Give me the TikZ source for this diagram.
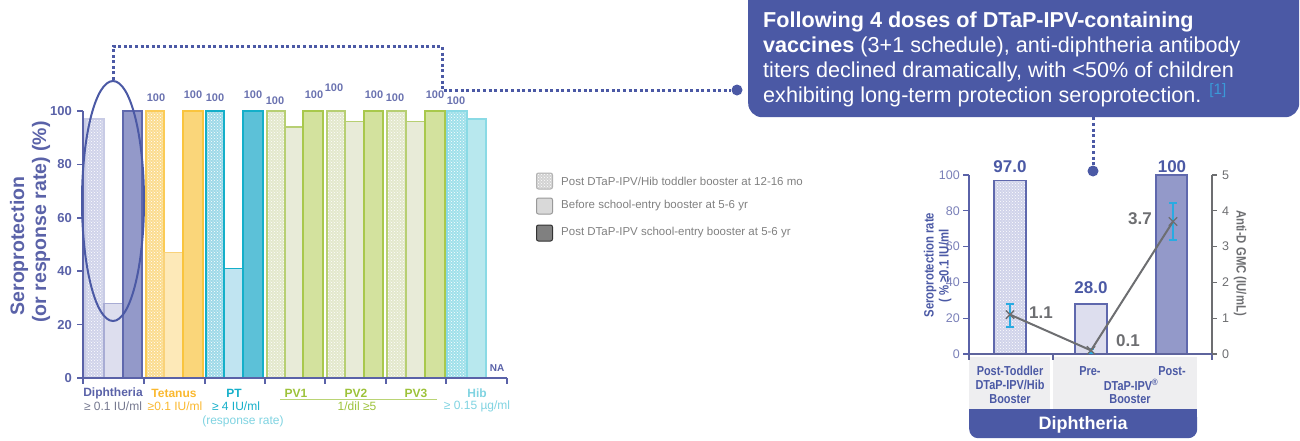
\documentclass[tikz,border=0pt]{standalone}
\usepackage{fontspec}
\setmainfont{Liberation Sans}
\newfontfamily\narrowfont[FakeStretch=0.84]{Liberation Sans}
\usetikzlibrary{patterns,shapes.geometric,shapes.misc}
\definecolor{ind}{HTML}{4B59A5}
\definecolor{axisc}{HTML}{5A62A8}
\definecolor{vlabc}{HTML}{6A72B0}
\definecolor{rtickc}{HTML}{7A80B8}
\definecolor{ddf}{HTML}{9399C9}\definecolor{ddd}{HTML}{5F68AD}
\definecolor{dmf}{HTML}{DDDEEE}\definecolor{dmd}{HTML}{A8ACD4}
\definecolor{dhf}{HTML}{D0D3EA}\definecolor{dhd}{HTML}{C8CBE5}
\definecolor{tdf}{HTML}{FAD67A}\definecolor{tdd}{HTML}{F9C43E}
\definecolor{tmf}{HTML}{FDE9B8}\definecolor{tmd}{HTML}{F9D27A}
\definecolor{thf}{HTML}{FBDC8F}\definecolor{thd}{HTML}{FBCB56}
\definecolor{pdf}{HTML}{5CC1D8}\definecolor{pdd}{HTML}{14AFC9}
\definecolor{pmf}{HTML}{C0E4F1}
\definecolor{phf}{HTML}{9ED9E8}
\definecolor{vdf}{HTML}{D3E29E}\definecolor{vdd}{HTML}{A8C84C}
\definecolor{vmf}{HTML}{E8EBD8}\definecolor{vmd}{HTML}{B7CF73}
\definecolor{vhf}{HTML}{E3E8CC}
\definecolor{hmf}{HTML}{B8E8EE}\definecolor{hmd}{HTML}{8ADAE5}
\definecolor{hhf}{HTML}{9FE0EA}
\definecolor{tetc}{HTML}{FAB82E}
\definecolor{ptc}{HTML}{14AFC9}
\definecolor{pvc}{HTML}{9DC23A}
\definecolor{hibc}{HTML}{7FD3E1}
\definecolor{greyc}{HTML}{6D6E71}
\definecolor{errc}{HTML}{29ABE2}
\definecolor{refc}{HTML}{3A9AD9}
\definecolor{catbg}{HTML}{EEEEF0}
\definecolor{legc}{HTML}{808080}
\definecolor{diphsub}{HTML}{75788F}
\newcommand\mybar[4]{\path[#4] (#1,378) rectangle (#2,{378-2.67*#3});}
\newcommand\rbar[4]{\path[#4] (#1,354) rectangle (#2,{354-1.79*#3});}
\begin{document}
\begin{tikzpicture}[x=1pt,y=-1pt,
  barb/.style={line width=1.3pt},
  hatch/.style 2 args={barb, draw=#1, preaction={fill=#2}, pattern=crosshatch dots, pattern color=white},
  solid/.style 2 args={barb, draw=#1, fill=#2},
  tick/.style={font=\fontsize{13}{15}\selectfont\bfseries, text=axisc, anchor=east, inner sep=0},
  vlab/.style={font=\fontsize{11}{13}\selectfont\bfseries, text=vlabc, inner sep=0},
  cat/.style={font=\fontsize{12}{14}\selectfont\bfseries, inner sep=0},
  sub/.style={font=\fontsize{12}{14}\selectfont, inner sep=0},
  dotline/.style={draw=ind, line width=3pt, dash pattern=on 3pt off 2.6pt},
  bigdot/.style={circle, fill=ind, inner sep=0, minimum size=11pt},
  legbox/.style={rounded corners=2pt, minimum size=16pt, inner sep=0, line width=1pt},
  legtxt/.style={font=\fontsize{11.5}{14}\selectfont, text=legc, anchor=west, inner sep=0},
  rtick/.style={font=\fontsize{12.5}{14}\selectfont, inner sep=0},
  rval/.style={font=\fontsize{17}{20}\selectfont\bfseries, text=ind, inner sep=0},
  gval/.style={font=\fontsize{17}{20}\selectfont\bfseries, text=greyc, inner sep=0},
  rcat/.style={font=\narrowfont\fontsize{13}{15}\selectfont\bfseries, text=ind, inner sep=0},
  xmark/.style={cross out, draw=greyc, line width=1.3pt, minimum size=7pt, inner sep=0},
  errbar/.style={draw=errc, line width=1.5pt}]
\useasboundingbox (0,0) rectangle (1300,440);

% ---------- left chart bars ----------
\mybar{85}{104}{97}{hatch={dhd}{dhf}}
\mybar{104}{123}{28}{solid={dmd}{dmf}}
\mybar{123}{142}{100}{solid={ddd}{ddf}}
\mybar{146}{164}{100}{hatch={thd}{thf}}
\mybar{164}{183}{47}{solid={tmd}{tmf}}
\mybar{183}{203}{100}{solid={tdd}{tdf}}
\mybar{206}{224}{100}{hatch={pdd}{phf}}
\mybar{224}{243}{41}{solid={pdd}{pmf}}
\mybar{243}{263}{100}{solid={pdd}{pdf}}
\mybar{267}{285}{100}{hatch={vmd}{vhf}}
\mybar{285}{303}{94}{solid={vmd}{vmf}}
\mybar{303}{323}{100}{solid={vdd}{vdf}}
\mybar{327}{345}{100}{hatch={vmd}{vhf}}
\mybar{345}{364}{96}{solid={vmd}{vmf}}
\mybar{364}{383}{100}{solid={vdd}{vdf}}
\mybar{387}{406}{100}{hatch={vmd}{vhf}}
\mybar{406}{425}{96}{solid={vmd}{vmf}}
\mybar{425}{445}{100}{solid={vdd}{vdf}}
\mybar{447}{467}{100}{hatch={hmd}{hhf}}
\mybar{467}{486}{97}{solid={hmd}{hmf}}

% axes
\draw[axisc, line width=2pt] (83,111) -- (83,378) -- (507,378);
\foreach \v in {0,20,...,100} \draw[axisc, line width=1.5pt] (77,{378-2.67*\v}) -- (83,{378-2.67*\v});
\foreach \x in {83,144,205,265,325,386,446,507} \draw[axisc, line width=1.5pt] (\x,378) -- (\x,384);
\node[tick] (t0) at (72,378) {0};
\node[tick] (t20) at (72,324.6) {20};
\node[tick] (t40) at (72,271.2) {40};
\node[tick] (t60) at (72,217.8) {60};
\node[tick] (t80) at (72,164.4) {80};
\node[tick] (t100) at (72,111) {100};
\node[rotate=90, font=\fontsize{19.5}{22}\selectfont\bfseries, text=axisc, inner sep=0] (yt1) at (19,246) {Seroprotection};
\node[rotate=90, font=\fontsize{19.5}{22}\selectfont\bfseries, text=axisc, inner sep=0] (yt2) at (41,222) {(or response rate) (\%)};

% value labels
\node[vlab] (l1) at (156,98) {100};
\node[vlab] (l2) at (193,95) {100};
\node[vlab] (l3) at (215,98) {100};
\node[vlab] (l4) at (253,95) {100};
\node[vlab] (l5) at (275,101) {100};
\node[vlab] (l6) at (314,95) {100};
\node[vlab] (l7) at (334,88) {100};
\node[vlab] (l8) at (374,95) {100};
\node[vlab] (l9) at (395,98) {100};
\node[vlab] (l10) at (435,95) {100};
\node[vlab] (l11) at (456,101) {100};
\node[font=\fontsize{10}{12}\selectfont\bfseries, text=axisc, inner sep=0] (na) at (497,368) {NA};

% category labels
\node[cat, text=axisc] (cd) at (113,393) {Diphtheria};
\node[sub, text=diphsub] (cd2) at (113,406) {≥ 0.1 IU/ml};
\node[cat, text=tetc] (ct) at (174,393) {Tetanus};
\node[sub, text=tetc] (ct2) at (175,406) {≥0.1 IU/ml};
\node[cat, text=ptc] (cp) at (234,393) {PT};
\node[sub, text=ptc] (cp2) at (236,406) {≥ 4 IU/ml};
\node[sub, text=hibc] (cp3) at (243,421) {(response rate)};
\node[cat, text=pvc] (cv1) at (296,393) {PV1};
\node[cat, text=pvc] (cv2) at (356,393) {PV2};
\node[cat, text=pvc] (cv3) at (416,393) {PV3};
\draw[pvc!70, line width=1.5pt] (280,399.5) -- (437,399.5);
\node[sub, text=pvc] (cv4) at (357,406) {1/dil ≥5};
\node[cat, text=hibc] (ch) at (477,393) {Hib};
\node[sub, text=hibc] (ch2) at (477,406) {≥ 0.15 µg/ml};

% ellipse + dotted connector
\node[ellipse, draw=ind, line width=2pt, minimum width=62pt, minimum height=240pt, inner sep=0] (oval) at (113,201) {};
\node[bigdot] (dotL) at (737,90) {};
\draw[dotline] (oval.north) |- (442,46) |- (dotL);

% ---------- legend ----------
\node[legbox, draw=legc!60, preaction={fill=legc!35}, pattern=crosshatch dots, pattern color=white] (lg1) at (544.5,181) {};
\node[legbox, draw=legc!80, fill=legc!30] (lg2) at (544.5,206) {};
\node[legbox, draw=legc!40!black, fill=legc] (lg3) at (544.5,233) {};
\node[legtxt] (lt1) at (561,181) {Post DTaP-IPV/Hib toddler booster at 12-16 mo};
\node[legtxt] (lt2) at (561,206) {Before school-entry booster at 5-6 yr};
\node[legtxt] (lt3) at (561,233) {Post DTaP-IPV school-entry booster at 5-6 yr};

% ---------- callout ----------
\node[fill=ind, rounded corners=14pt, minimum width=551pt, minimum height=137pt, anchor=north west, inner sep=0] (callout) at (748,-20) {};
\node[anchor=north west, align=left, text=white, font=\fontsize{21.6}{25}\selectfont, inner sep=0] (calltext) at (763,11.5)
 {\textbf{Following 4 doses of DTaP-IPV-containing}\\
  \textbf{vaccines} (3+1 schedule), anti-diphtheria antibody\\
  titers declined dramatically, with <50\% of children\\
  exhibiting long-term protection seroprotection. \textsuperscript{\textcolor{refc}{[1]}}};
\node[bigdot] (dotR) at (1093,171) {};
\draw[dotline] (callout.south -| dotR) -- (dotR);

% ---------- right chart ----------
\fill[catbg] (969,357) rectangle (1050,409);
\fill[catbg] (1053,357) rectangle (1197,409);
\node[fill=ind, rounded corners=9pt, minimum width=228pt, minimum height=29pt, anchor=north west, inner sep=0] (banner) at (969,409) {};
\fill[ind] (969,409) rectangle (1197,420);
\node[font=\fontsize{18}{21}\selectfont\bfseries, text=white, inner sep=0] (bantext) at (1083,424.5) {Diphtheria};

\rbar{994}{1026}{97}{hatch={ddd}{dhf}}
\rbar{1075}{1107}{28}{solid={ddd}{dmf}}
\rbar{1156}{1187}{100}{solid={ddd}{ddf}}

\draw[axisc, line width=1.5pt] (969,175) -- (969,354);
\draw[greyc, line width=1.5pt] (1212,175) -- (1212,354);
\draw[axisc!80!greyc, line width=1.5pt] (969,354) -- (1212,354);
\foreach \x in {969,1053,1212} \draw[axisc!80!greyc, line width=1.5pt] (\x,354) -- (\x,360);
\foreach \v in {0,20,...,100} \draw[axisc, line width=1.3pt] (963,{354-1.79*\v}) -- (969,{354-1.79*\v});
\foreach \k in {0,...,5} \draw[greyc, line width=1.3pt] (1212,{354-35.8*\k}) -- (1217,{354-35.8*\k});
\foreach \v/\n in {0/r0,20/r20,40/r40,60/r60,80/r80,100/r100}
  \node[rtick, text=rtickc, anchor=east] (\n) at (960,{354-1.79*\v}) {\v};
\foreach \k/\n in {0/s0,1/s1,2/s2,3/s3,4/s4,5/s5}
  \node[rtick, text=greyc, anchor=west] (\n) at (1222,{354-35.8*\k}) {\k};

\node[rotate=90, font=\narrowfont\fontsize{13.5}{16}\selectfont\bfseries, text=ind, inner sep=0] (ryt1) at (930,265) {Seroprotection rate};
\node[rotate=90, font=\narrowfont\fontsize{13.5}{16}\selectfont\bfseries, text=ind, inner sep=0] (ryt2) at (945,266) {( \% ≥0.1 IU/ml};
\node[rotate=-90, font=\narrowfont\fontsize{13.5}{16}\selectfont\bfseries, text=greyc, inner sep=0] (ryt3) at (1240,263) {Anti-D GMC (IU/mL)};

\node[rval] (b1) at (1010,167) {97.0};
\node[rval] (b2) at (1091,288) {28.0};
\node[rval] (b3) at (1172,167) {100};

% error bars
\draw[errbar] (1010,304) -- (1010,327) (1006,304) -- (1014,304) (1006,327) -- (1014,327);
\draw[errbar] (1173,203) -- (1173,240) (1169,203) -- (1177,203) (1169,240) -- (1177,240);
\draw[errbar] (1091,349) -- (1091,353) (1088,349) -- (1094,349) (1088,353) -- (1094,353);

\coordinate (p1) at (1010,314.6);
\coordinate (p2) at (1091,350.4);
\coordinate (p3) at (1173,221.5);
\draw[greyc, line width=2pt] (p1) -- (p2) -- (p3);
\node[xmark] (m1) at (p1) {};
\node[xmark] (m2) at (p2) {};
\node[xmark] (m3) at (p3) {};
\node[gval] (g1) at (1041,313) {1.1};
\node[gval] (g2) at (1128,341) {0.1};
\node[gval] (g3) at (1140,219) {3.7};

\node[rcat] (rc1) at (1010,371) {Post-Toddler};
\node[rcat] (rc2) at (1010,385) {DTaP-IPV/Hib};
\node[rcat] (rc3) at (1010,399) {Booster};
\node[rcat] (rc4) at (1090,371) {Pre-};
\node[rcat] (rc5) at (1172,371) {Post-};
\node[rcat] (rc6) at (1131,385) {DTaP-IPV\textsuperscript{®}};
\node[rcat] (rc7) at (1130,399) {Booster};
\end{tikzpicture}
\end{document}
